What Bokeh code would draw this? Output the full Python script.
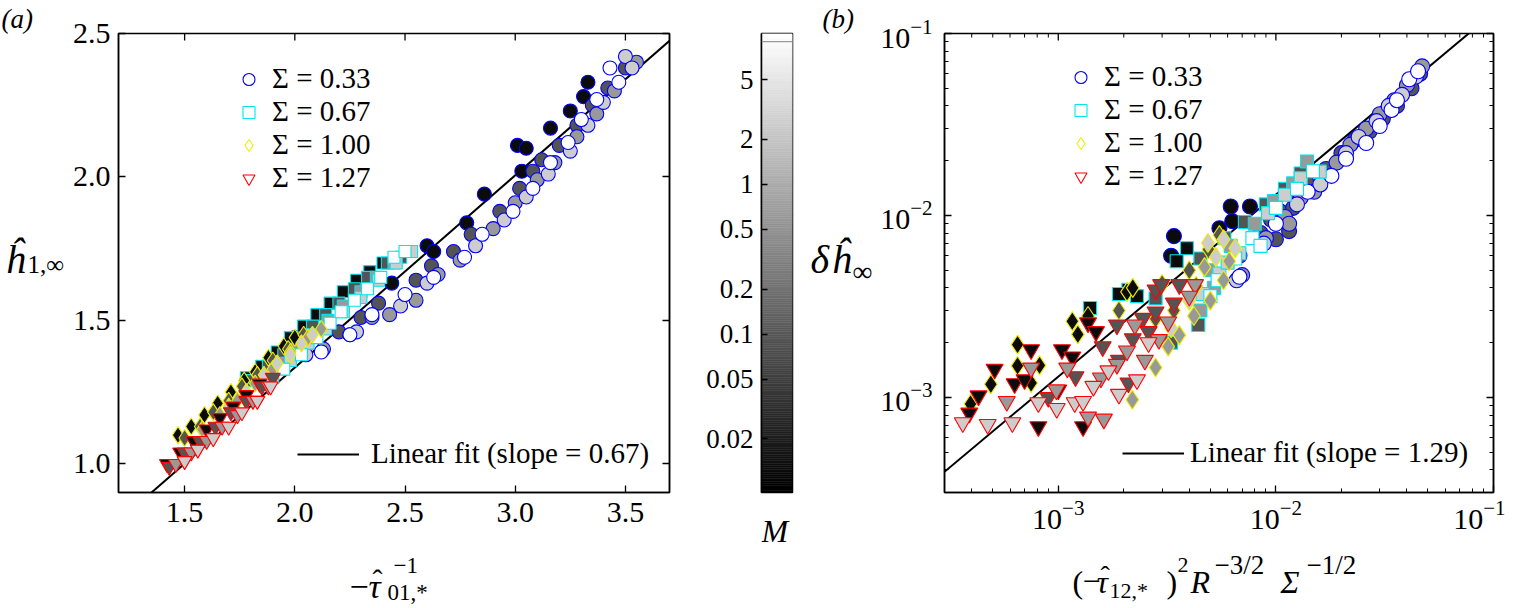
import numpy as np
from bokeh.plotting import figure
from bokeh.layouts import row, column
from bokeh.models import (Label, Legend, LegendItem, FixedTicker, PrintfTickFormatter,
                          CustomJSTickFormatter, LinearAxis, LogTicker, Span, Title,
                          ColumnDataSource, Range1d)
from bokeh.transform import log_cmap
from bokeh.embed import file_html
from bokeh.resources import INLINE

FONT = "Liberation Serif"

# ---------------- colour scale (M) ----------------
m_low, m_high = 0.00873, 10.2
gray_palette = ["#%02x%02x%02x" % (i, i, i) for i in range(256)]
cbar_ticks = [0.02, 0.05, 0.1, 0.2, 0.5, 1, 2, 5]
cbar_mark = 9.0

# ---------------- series definitions ----------------
sigma_labels = ["Σ = 0.33", "Σ = 0.67", "Σ = 1.00", "Σ = 1.27"]
sigma_markers = ["circle", "square", "diamond", "inverted_triangle"]
sigma_edges = ["#0000ff", "#00e5ee", "#eeee00", "#ff0000"]

# ---------------- panel (a) data ----------------
a_xrange = (1.2, 3.7)
a_yrange = (0.9, 2.5)
a_xticks = [1.5, 2.0, 2.5, 3.0, 3.5]
a_yticks = [1.0, 1.5, 2.0, 2.5]
a_fit_slope, a_fit_icpt = 0.67, -0.0045
a_fit_label = "Linear fit (slope = 0.67)"

a033_x = [2.00, 2.44, 2.60, 2.63, 2.78, 2.86, 3.03, 3.01, 3.05, 3.16, 3.25, 3.31, 3.33,
          2.20, 2.30, 2.38, 2.55, 2.62, 2.72, 2.80, 2.93, 3.02, 3.08, 3.12, 3.20, 3.28, 3.35, 3.42, 3.50,
          2.13, 2.25, 2.35, 2.43, 2.55, 2.65, 2.75, 2.90, 3.00, 3.10, 3.18, 3.28, 3.37, 3.45, 3.55,
          2.05, 2.28, 2.48, 2.60, 2.82, 2.95, 3.05, 3.15, 3.25, 3.33, 3.40, 3.50, 3.53,
          2.12, 2.25, 2.35, 2.50, 2.63, 2.77, 2.85, 2.99, 3.08, 3.16, 3.24, 3.30, 3.37, 3.43, 3.47]
a033_y = [1.44, 1.63, 1.76, 1.74, 1.84, 1.94, 2.02, 2.11, 2.10, 2.17, 2.23, 2.28, 2.33,
          1.46, 1.51, 1.56, 1.64, 1.69, 1.74, 1.80, 1.88, 1.96, 2.02, 2.06, 2.11, 2.18, 2.25, 2.31, 2.38,
          1.40, 1.45, 1.51, 1.52, 1.57, 1.66, 1.71, 1.82, 1.91, 1.99, 2.05, 2.14, 2.22, 2.30, 2.40,
          1.38, 1.46, 1.55, 1.63, 1.76, 1.85, 1.93, 2.01, 2.09, 2.18, 2.26, 2.42, 2.38,
          1.39, 1.45, 1.52, 1.59, 1.65, 1.72, 1.80, 1.88, 1.96, 2.05, 2.12, 2.20, 2.27, 2.38, 2.33]
a033_m = [0.012] * 13 + [0.09] * 16 + [0.6] * 15 + [2.5] * 13 + [9.5] * 15

a067_x = [1.78, 1.85, 1.92, 1.98, 2.04, 2.10, 2.16, 2.22, 2.28, 2.34, 2.40,
          1.80, 1.88, 1.95, 2.02, 2.08, 2.14, 2.20, 2.27, 2.33, 2.42, 2.48,
          1.84, 1.93, 2.00, 2.07, 2.15, 2.22, 2.30, 2.37, 2.45,
          1.90, 1.98, 2.06, 2.14, 2.22, 2.30, 2.38, 2.46, 2.53,
          1.95, 2.03, 2.10, 2.16, 2.21, 2.27, 2.33, 2.39, 2.45, 2.50]
a067_y = [1.30, 1.34, 1.39, 1.44, 1.48, 1.52, 1.56, 1.60, 1.64, 1.67, 1.70,
          1.29, 1.34, 1.38, 1.43, 1.48, 1.52, 1.56, 1.61, 1.65, 1.70, 1.72,
          1.30, 1.35, 1.40, 1.45, 1.50, 1.55, 1.60, 1.65, 1.70,
          1.30, 1.36, 1.42, 1.47, 1.53, 1.58, 1.64, 1.70, 1.74,
          1.33, 1.38, 1.44, 1.49, 1.53, 1.57, 1.61, 1.65, 1.72, 1.74]
a067_m = [0.012] * 11 + [0.09] * 11 + [0.6] * 9 + [2.5] * 9 + [9.5] * 10

a100_x = [1.47, 1.53, 1.59, 1.65, 1.71, 1.77, 1.82, 1.88, 1.95, 2.00,
          1.50, 1.57, 1.63, 1.70, 1.76, 1.83, 1.90, 1.97, 2.04,
          1.58, 1.66, 1.74, 1.82, 1.90, 1.98, 2.06, 2.12,
          1.70, 1.78, 1.86, 1.92, 1.98, 2.03, 2.08]
a100_y = [1.10, 1.13, 1.17, 1.21, 1.25, 1.29, 1.32, 1.37, 1.41, 1.44,
          1.09, 1.13, 1.18, 1.22, 1.27, 1.31, 1.36, 1.40, 1.45,
          1.12, 1.17, 1.22, 1.28, 1.33, 1.39, 1.44, 1.47,
          1.20, 1.25, 1.31, 1.35, 1.38, 1.42, 1.45]
a100_m = [0.012] * 10 + [0.09] * 9 + [0.6] * 8 + [2.5] * 7

a127_x = [1.42, 1.48, 1.54, 1.60, 1.66, 1.72, 1.78, 1.84,
          1.43, 1.50, 1.57, 1.64, 1.71, 1.78, 1.85, 1.90,
          1.46, 1.53, 1.60, 1.67, 1.74, 1.81, 1.88,
          1.50, 1.56, 1.63, 1.70, 1.76, 1.83, 1.89]
a127_y = [1.00, 1.04, 1.08, 1.12, 1.16, 1.20, 1.24, 1.28,
          0.99, 1.04, 1.08, 1.13, 1.18, 1.22, 1.27, 1.30,
          1.00, 1.04, 1.08, 1.13, 1.17, 1.22, 1.27,
          1.01, 1.05, 1.09, 1.13, 1.18, 1.22, 1.27]
a127_m = [0.012] * 8 + [0.09] * 8 + [0.6] * 7 + [2.5] * 7

# ---------------- panel (b) data ----------------
b_xrange = (3e-4, 1e-1)
b_yrange = (3e-4, 1e-1)
b_fit_coef, b_fit_exp = 1.3, 1.0
b_fit_label = "Linear fit (slope = 1.29)"

b033_x = [0.0034, 0.0033, 0.0062, 0.0076, 0.0063, 0.0055,
          0.0068, 0.0085, 0.0105, 0.0125, 0.014, 0.017, 0.020, 0.023, 0.027, 0.031, 0.036, 0.042, 0.046, 0.0095, 0.012, 0.0100, 0.0115,
          0.0070, 0.0090, 0.011, 0.013, 0.016, 0.019, 0.022, 0.026, 0.030, 0.035, 0.040, 0.047, 0.0115, 0.015,
          0.0066, 0.0088, 0.0125, 0.016, 0.021, 0.024, 0.029, 0.033, 0.038, 0.044,
          0.0068, 0.010, 0.014, 0.018, 0.021, 0.026, 0.030, 0.034, 0.036, 0.041, 0.045]
b033_y = [0.0077, 0.0060, 0.0112, 0.0112, 0.0093, 0.0085,
          0.0060, 0.0080, 0.0105, 0.0130, 0.0150, 0.018, 0.022, 0.026, 0.029, 0.034, 0.040, 0.050, 0.060, 0.0095, 0.011, 0.0074, 0.0082,
          0.0047, 0.0075, 0.0098, 0.0125, 0.0160, 0.0195, 0.0245, 0.030, 0.036, 0.043, 0.052, 0.066, 0.0090, 0.0135,
          0.0044, 0.0070, 0.0115, 0.0148, 0.022, 0.027, 0.033, 0.040, 0.046, 0.058,
          0.0046, 0.0090, 0.0135, 0.0165, 0.0205, 0.025, 0.031, 0.038, 0.043, 0.056, 0.062]
b033_m = [0.012] * 6 + [0.09] * 17 + [0.6] * 14 + [2.5] * 10 + [9.5] * 11

b067_x = [0.0039, 0.0035, 0.0021, 0.0019, 0.0014, 0.0023,
          0.0045, 0.0058, 0.0072, 0.0090, 0.011, 0.0033, 0.0044, 0.0028, 0.013,
          0.0050, 0.0062, 0.0080, 0.0098, 0.012, 0.0139, 0.0045, 0.0052,
          0.0046, 0.0055, 0.0068, 0.0092, 0.011, 0.0159, 0.0060, 0.0130,
          0.0054, 0.0065, 0.0078, 0.0085, 0.010, 0.0125, 0.0148, 0.0050]
b067_y = [0.0066, 0.0056, 0.0039, 0.0037, 0.0031, 0.0036,
          0.0058, 0.0075, 0.0092, 0.0115, 0.014, 0.0020, 0.0025, 0.0035, 0.017,
          0.0050, 0.0068, 0.0090, 0.0120, 0.0150, 0.0198, 0.0030, 0.0040,
          0.0037, 0.0048, 0.0062, 0.0103, 0.013, 0.0174, 0.0055, 0.0160,
          0.0044, 0.0058, 0.0075, 0.0068, 0.0110, 0.0140, 0.0175, 0.0036]
b067_m = [0.012] * 6 + [0.09] * 9 + [0.6] * 8 + [2.5] * 8 + [9.5] * 8

b100_x = [0.000395, 0.00049, 0.00065, 0.00065, 0.00116, 0.00123, 0.00137, 0.00207, 0.0022, 0.00075, 0.00082,
          0.0028, 0.0034, 0.0040, 0.0049, 0.0030, 0.0019, 0.0055, 0.0043,
          0.00219, 0.0028, 0.0036, 0.0047, 0.00575, 0.0061, 0.0050, 0.0032, 0.0042,
          0.00575, 0.00487, 0.0065, 0.0040, 0.0033, 0.0053]
b100_y = [0.00092, 0.00118, 0.00195, 0.00149, 0.00262, 0.00222, 0.0028, 0.0038, 0.0040, 0.0012, 0.0015,
          0.0027, 0.0030, 0.0050, 0.0065, 0.0042, 0.0030, 0.0078, 0.0041,
          0.00097, 0.00146, 0.0022, 0.0052, 0.0044, 0.0056, 0.0034, 0.0019, 0.0028,
          0.0074, 0.00705, 0.0066, 0.0034, 0.0024, 0.0059]
b100_m = [0.012] * 11 + [0.09] * 8 + [0.6] * 9 + [2.5] * 6

b127_x = [0.00039, 0.00043, 0.00051, 0.00063, 0.00075, 0.00081, 0.00104, 0.00116, 0.00137, 0.0013, 0.00149, 0.0007, 0.0010,
          0.00186, 0.00245, 0.0028, 0.0034, 0.0028, 0.00297, 0.0036, 0.0019, 0.0022, 0.0016, 0.0026, 0.0012, 0.0009, 0.0021,
          0.00058, 0.00075, 0.0011, 0.00137, 0.00162, 0.00157, 0.00186, 0.00207, 0.0025, 0.0029, 0.00225, 0.00425, 0.0040, 0.0032, 0.00098,
          0.000364, 0.000474, 0.000615, 0.00081, 0.000984, 0.00119, 0.0019, 0.00145, 0.0017, 0.0023, 0.0026, 0.0013]
b127_y = [0.00082, 0.00102, 0.00143, 0.00119, 0.00183, 0.00069, 0.00183, 0.00167, 0.00257, 0.00069, 0.0023, 0.00125, 0.0011,
          0.0025, 0.00272, 0.00295, 0.0033, 0.0039, 0.00417, 0.00417, 0.0016, 0.0021, 0.0019, 0.0023, 0.0013, 0.0010, 0.0012,
          0.00095, 0.00145, 0.00145, 0.00078, 0.00076, 0.00128, 0.00152, 0.0018, 0.0016, 0.00208, 0.0025, 0.00417, 0.0036, 0.0026, 0.0011,
          0.000726, 0.00071, 0.000726, 0.000935, 0.00087, 0.000935, 0.00104, 0.00115, 0.0014, 0.00125, 0.0020, 0.00095]
b127_m = [0.012] * 13 + [0.09] * 14 + [0.6] * 15 + [2.5] * 12

a_series = [(a033_x, a033_y, a033_m), (a067_x, a067_y, a067_m),
            (a100_x, a100_y, a100_m), (a127_x, a127_y, a127_m)]
b_series = [(b033_x, b033_y, b033_m), (b067_x, b067_y, b067_m),
            (b100_x, b100_y, b100_m), (b127_x, b127_y, b127_m)]
a_sizes = [14, 12, 17, 15]
b_sizes = [15, 13, 19, 17]

# ---------------- page geometry (pixels from the page's top-left) ----------------
FRAME_TOP, FRAME_H = 33, 459
FRAME_BOT = FRAME_TOP + FRAME_H
P_BOT = 55                       # plot bottom border (tick labels)
XL_TOP = FRAME_BOT + P_BOT       # strip holding the x labels
XL_BOT = 605
MAJ_PX, MIN_PX = 7, 4


def style_axis(ax, labels=True, size="30px", minor=True):
    ax.axis_line_color = "black"
    ax.axis_line_width = 1.5
    ax.major_tick_in = MAJ_PX
    ax.major_tick_out = 0
    ax.major_tick_line_width = 1.3
    ax.minor_tick_in = MIN_PX if minor else 0
    ax.minor_tick_out = 0
    ax.minor_tick_line_width = 1.0
    if not minor:
        ax.minor_tick_line_color = None
    ax.major_label_text_font = FONT
    ax.major_label_text_font_size = size
    ax.major_label_text_color = "black"
    if not labels:
        ax.formatter = CustomJSTickFormatter(code="return ''")
        ax.major_label_standoff = 0


def panel_tag(text, offset):
    return Title(text=text, align="left", offset=offset, standoff=0, vertical_align="bottom",
                 text_font=FONT, text_font_size="27px", text_font_style="italic",
                 text_color="black")


def strip(x0, x1, y0, y1, **borders):
    # a blank figure whose data coordinates are page pixels (y downward)
    bl = borders.get("min_border_left", 0)
    br = borders.get("min_border_right", 0)
    bt = borders.get("min_border_top", 0)
    bbm = borders.get("min_border_bottom", 0)
    s = figure(width=x1 - x0 + bl + br, height=y1 - y0 + bt + bbm,
               x_range=Range1d(x0, x1), y_range=Range1d(y1, y0),
               title=None, x_axis_location=None, y_axis_location=None,
               toolbar_location=None, output_backend="svg",
               min_border_left=bl, min_border_right=br, min_border_top=bt, min_border_bottom=bbm)
    s.grid.visible = False
    s.outline_line_color = None
    return s


def txt(p, x, y, text, size, italic=False):
    # x, y: page pixels of the text's left end and baseline
    p.add_layout(Label(x=x, y=y, text=text, text_font=FONT, text_font_size=size,
                       text_font_style="italic" if italic else "normal",
                       text_baseline="alphabetic", text_align="left", text_color="black"))


def scatter_series(p, series, sizes):
    for (xs, ys, ms), mk, ec, sz in zip(series, sigma_markers, sigma_edges, sizes):
        src = ColumnDataSource(dict(x=xs, y=ys, m=ms))
        p.scatter("x", "y", source=src, marker=mk, size=sz,
                  fill_color=log_cmap("m", gray_palette, m_low, m_high),
                  line_color=ec, line_width=1.1)


def add_legends(p, sig_loc, sig_standoff, fit_renderer, fit_label, fit_loc, fit_standoff):
    items = []
    for lab, mk, ec in zip(sigma_labels, sigma_markers, sigma_edges):
        r = p.scatter(x=[float("nan")], y=[float("nan")], marker=mk, size=12,
                      fill_color="white", line_color=ec, line_width=1.1)
        items.append(LegendItem(label=lab, renderers=[r], index=0))
    leg = Legend(items=items, location=sig_loc, glyph_width=31, glyph_height=30,
                 label_height=30, spacing=0, padding=0, margin=0, label_standoff=sig_standoff,
                 label_text_font=FONT, label_text_font_size="29px", label_text_color="black",
                 border_line_color=None, background_fill_alpha=0)
    p.add_layout(leg)
    leg2 = Legend(items=[LegendItem(label=fit_label, renderers=[fit_renderer])],
                  location=fit_loc, glyph_width=62, glyph_height=30, label_height=30,
                  spacing=0, padding=0, margin=0, label_standoff=fit_standoff,
                  label_text_font=FONT, label_text_font_size="29px", label_text_color="black",
                  border_line_color=None, background_fill_alpha=0)
    p.add_layout(leg2)


# ================= panel (a) =================
SA_W = 66
p1 = figure(x_range=a_xrange, y_range=a_yrange, frame_width=551, frame_height=FRAME_H,
            min_border_left=52, min_border_right=31, min_border_top=FRAME_TOP, min_border_bottom=P_BOT,
            title=None, toolbar_location=None, output_backend="svg")
p1.grid.visible = False
p1.outline_line_color = "black"
p1.outline_line_width = 1.5
p1.xaxis.ticker = FixedTicker(ticks=a_xticks)
p1.yaxis.ticker = FixedTicker(ticks=a_yticks)
p1.xaxis.formatter = PrintfTickFormatter(format="%.1f")
p1.yaxis.formatter = PrintfTickFormatter(format="%.1f")
p1.xaxis.major_label_standoff = 10
p1.yaxis.major_label_standoff = 8
style_axis(p1.xaxis[0], minor=False)
style_axis(p1.yaxis[0], minor=False)
ax_right = LinearAxis(ticker=FixedTicker(ticks=a_yticks))
style_axis(ax_right, labels=False, minor=False)
p1.add_layout(ax_right, "right")
# inward tick marks along the top edge
a_dy = MAJ_PX * (a_yrange[1] - a_yrange[0]) / FRAME_H
p1.segment(x0=a_xticks, y0=[a_yrange[1]] * len(a_xticks), x1=a_xticks,
           y1=[a_yrange[1] - a_dy] * len(a_xticks), line_color="black", line_width=1.3)

a_fx = np.array(a_xrange)
fit_a = p1.line(a_fx, a_fit_slope * a_fx + a_fit_icpt, line_color="black", line_width=2)
scatter_series(p1, a_series, a_sizes)
add_legends(p1, (115, 298), 8, fit_a, a_fit_label, (179, 22), 12)

P1_W = 52 + 551 + 31
sa = strip(0, SA_W, FRAME_TOP, FRAME_BOT, min_border_top=FRAME_TOP, min_border_bottom=P_BOT)
sa.title = panel_tag("(a)", 1)
txt(sa, 5, 259, "ĥ", "40px", italic=True)
txt(sa, 27, 264, "1,∞", "25px")

ba = strip(0, SA_W + P1_W, XL_TOP, XL_BOT)
txt(ba, 349, 586, "−", "34px")
txt(ba, 368, 586, "τ", "34px", italic=True)
txt(ba, 372, 579, "ˆ", "30px")
txt(ba, 387, 592, "01,*", "23px")
txt(ba, 393, 565, "−1", "23px")

# ================= colour bar =================
CB_X0 = SA_W + P1_W              # 700
CB_BOTTOM = 10
p2 = figure(x_range=(0, 1), y_range=(m_low, m_high), y_axis_type="log",
            frame_width=31, frame_height=FRAME_H,
            min_border_left=61, min_border_right=8, min_border_top=FRAME_TOP, min_border_bottom=CB_BOTTOM,
            title=None, x_axis_location=None, toolbar_location=None, output_backend="svg")
p2.grid.visible = False
p2.outline_line_color = "black"
p2.outline_line_width = 1.5
edges = np.logspace(np.log10(m_low), np.log10(m_high), len(gray_palette) + 1)
p2.quad(left=0, right=1, bottom=edges[:-1], top=edges[1:], fill_color=gray_palette,
        line_color=gray_palette, line_width=0.5)
p2.add_layout(Span(location=cbar_mark, dimension="width", line_color="#9a9a9a", line_width=1.2))
p2.yaxis.ticker = FixedTicker(ticks=cbar_ticks)
p2.yaxis.formatter = CustomJSTickFormatter(code="return String(tick)")
style_axis(p2.yaxis[0], size="27px", minor=False)
p2.yaxis.major_tick_in = 6
p2.yaxis.major_label_standoff = 8

bc = strip(CB_X0 + 61, CB_X0 + 61 + 31, FRAME_BOT + CB_BOTTOM, XL_BOT,
           min_border_left=61, min_border_right=8)
txt(bc, 761, 530, "M", "32px", italic=True)

# ================= panel (b) =================
SB_X0 = CB_X0 + 100              # 800
SB_W = 75
p3 = figure(x_range=b_xrange, y_range=b_yrange, x_axis_type="log", y_axis_type="log",
            frame_width=549, frame_height=FRAME_H,
            min_border_left=69, min_border_right=12, min_border_top=FRAME_TOP, min_border_bottom=P_BOT,
            title=None, toolbar_location=None, output_backend="svg")
p3.grid.visible = False
p3.outline_line_color = "black"
p3.outline_line_width = 1.5
p3.xaxis.ticker = LogTicker(num_minor_ticks=10)
p3.yaxis.ticker = LogTicker(num_minor_ticks=10)
p3.xaxis.major_label_standoff = 8
p3.yaxis.major_label_standoff = 12
style_axis(p3.xaxis[0])
style_axis(p3.yaxis[0])
by_right = LinearAxis(ticker=LogTicker(num_minor_ticks=10))
style_axis(by_right, labels=False)
p3.add_layout(by_right, "right")
# inward tick marks along the top edge (decades and their 2..9 multiples)
b_dec_per_px = np.log10(b_yrange[1] / b_yrange[0]) / FRAME_H
b_top_major = [10.0 ** d for d in range(-4, 0) if b_xrange[0] < 10.0 ** d < b_xrange[1]]
b_top_minor = [k * 10.0 ** d for d in range(-4, -1) for k in range(2, 10)
               if b_xrange[0] < k * 10.0 ** d < b_xrange[1]]
for xs, px in ((b_top_major, MAJ_PX), (b_top_minor, MIN_PX)):
    p3.segment(x0=xs, y0=[b_yrange[1]] * len(xs), x1=xs,
               y1=[b_yrange[1] * 10 ** (-px * b_dec_per_px)] * len(xs),
               line_color="black", line_width=1.3 if px == MAJ_PX else 1.0)

b_fx = np.array(b_xrange)
fit_b = p3.line(b_fx, b_fit_coef * b_fx ** b_fit_exp, line_color="black", line_width=2)
scatter_series(p3, b_series, b_sizes)
add_legends(p3, (121, 300), 8, fit_b, b_fit_label, (178, 23), 6)

P3_W = 69 + 549 + 12
sb = strip(SB_X0, SB_X0 + SB_W, FRAME_TOP, FRAME_BOT, min_border_top=FRAME_TOP, min_border_bottom=P_BOT)
sb.title = panel_tag("(b)", 22)
txt(sb, 810, 259, "δ", "40px", italic=True)
txt(sb, 831, 259, "ĥ", "40px", italic=True)
txt(sb, 852, 271, "∞", "28px")

bb = strip(SB_X0, SB_X0 + SB_W + P3_W, XL_TOP, XL_BOT)
txt(bb, 1072, 581, "(", "32px")
txt(bb, 1082, 581, "−", "32px")
txt(bb, 1096, 581, "τ", "32px", italic=True)
txt(bb, 1100, 575, "ˆ", "28px")
txt(bb, 1109, 590, "12,*", "22px")
txt(bb, 1166, 581, ")", "32px")
txt(bb, 1177, 564, "2", "22px")
txt(bb, 1190, 581, "R", "32px", italic=True)
txt(bb, 1214, 564, "−3/2", "27px")
txt(bb, 1280, 581, "Σ", "32px", italic=True)
txt(bb, 1306, 564, "−1/2", "27px")

layout = row(column(row(sa, p1), ba),
             column(p2, bc),
             column(row(sb, p3), bb))
open("out.html", "w").write(file_html(layout, INLINE))
